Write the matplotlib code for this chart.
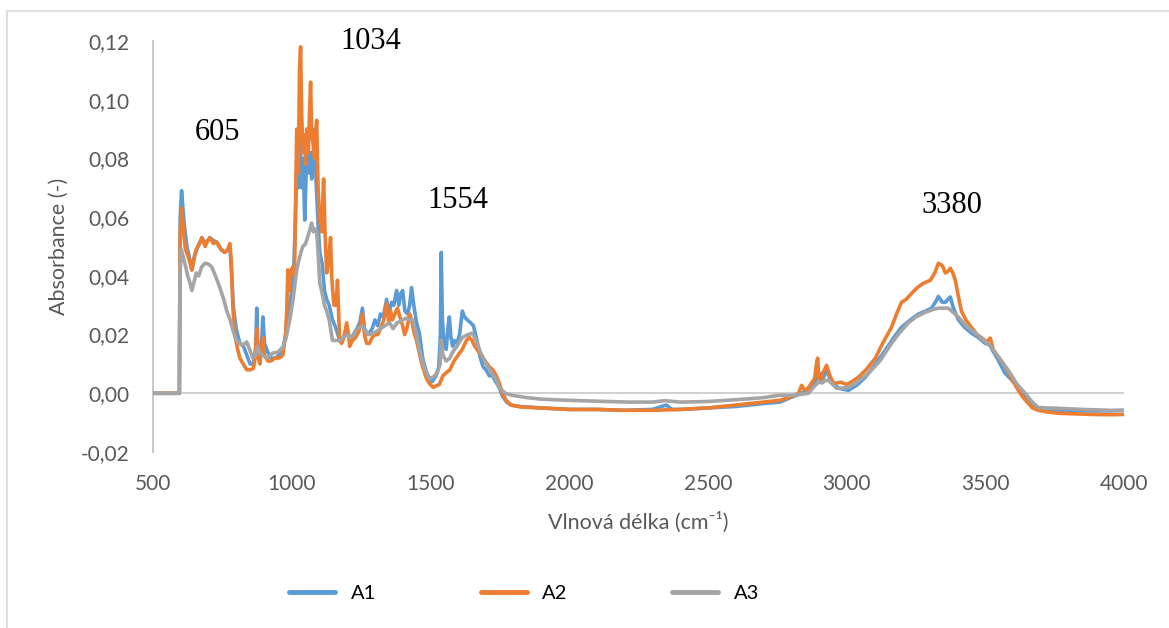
import matplotlib
matplotlib.use("Agg")
import matplotlib.pyplot as plt
from matplotlib.patches import Rectangle
from matplotlib.ticker import FuncFormatter

# --- spectra (wavenumber cm-1, absorbance) ---
a1_wn = [500, 595, 598, 603, 612, 622, 632, 640, 650, 662, 676, 690, 705, 718, 730, 745, 759, 770, 777,
         784, 790, 800, 813, 826, 838, 850, 862, 870, 874, 878, 885, 891, 896, 902, 914, 925, 940, 955,
         968, 978, 986, 996, 1006, 1012, 1018, 1024, 1029, 1036, 1041, 1047, 1052, 1058, 1064, 1068,
         1072, 1077, 1083, 1088, 1094, 1101, 1110, 1118, 1126, 1135, 1147, 1160, 1173, 1186, 1198,
         1210, 1222, 1235, 1245, 1255, 1262, 1275, 1290, 1300, 1310, 1320, 1330, 1342, 1350, 1360,
         1368, 1378, 1386, 1393, 1400, 1408, 1418, 1425, 1432, 1440, 1450, 1460, 1472, 1486, 1498,
         1507, 1520, 1530, 1536, 1539, 1543, 1550, 1557, 1563, 1568, 1574, 1580, 1586, 1595, 1605,
         1615, 1623, 1633, 1645, 1655, 1668, 1680, 1690, 1700, 1712, 1723, 1735, 1748, 1760, 1775,
         1790, 1820, 1900, 2000, 2100, 2200, 2300, 2350, 2370, 2400, 2500, 2600, 2700, 2760, 2800,
         2838, 2863, 2885, 2900, 2906, 2915, 2928, 2945, 2971, 3007, 3040, 3068, 3100, 3140, 3170,
         3198, 3230, 3259, 3285, 3306, 3320, 3331, 3345, 3356, 3365, 3374, 3385, 3403, 3425, 3450,
         3475, 3500, 3515, 3530, 3547, 3570, 3595, 3619, 3640, 3660, 3680, 3720, 3762, 3850, 3950, 4000]
a1_abs = [0.0, 0.0, 0.060, 0.069, 0.058, 0.050, 0.046, 0.042, 0.047, 0.050, 0.053, 0.051, 0.053, 0.052,
          0.0515, 0.049, 0.048, 0.049, 0.050, 0.040, 0.029, 0.022, 0.017, 0.016, 0.013, 0.010, 0.010,
          0.015, 0.029, 0.016, 0.012, 0.016, 0.026, 0.017, 0.014, 0.012, 0.012, 0.013, 0.0147, 0.020,
          0.028, 0.032, 0.040, 0.055, 0.076, 0.070, 0.090, 0.070, 0.080, 0.059, 0.075, 0.085, 0.075,
          0.082, 0.073, 0.080, 0.090, 0.072, 0.060, 0.048, 0.044, 0.035, 0.032, 0.030, 0.025, 0.022,
          0.018, 0.019, 0.021, 0.018, 0.020, 0.022, 0.024, 0.029, 0.022, 0.020, 0.022, 0.025, 0.023,
          0.027, 0.026, 0.032, 0.027, 0.031, 0.030, 0.035, 0.030, 0.034, 0.035, 0.028, 0.027, 0.030,
          0.036, 0.030, 0.024, 0.0205, 0.012, 0.007, 0.005, 0.004, 0.006, 0.009, 0.020, 0.048, 0.025,
          0.016, 0.015, 0.022, 0.026, 0.019, 0.016, 0.018, 0.017, 0.020, 0.028, 0.026, 0.025, 0.024,
          0.023, 0.018, 0.012, 0.009, 0.008, 0.006, 0.006, 0.004, 0.002, -0.001, -0.003, -0.004,
          -0.0045, -0.005, -0.0055, -0.0055, -0.0058, -0.0055, -0.004, -0.0055, -0.0055, -0.005,
          -0.0045, -0.0035, -0.003, -0.0014, 0.0, 0.0017, 0.004, 0.006, 0.0068, 0.005, 0.0078, 0.004,
          0.0017, 0.001, 0.003, 0.0055, 0.0095, 0.0147, 0.019, 0.0225, 0.025, 0.027, 0.028, 0.029,
          0.031, 0.033, 0.031, 0.031, 0.032, 0.0328, 0.029, 0.025, 0.0225, 0.0205, 0.019, 0.017,
          0.0165, 0.014, 0.0113, 0.007, 0.0045, 0.002, -0.001, -0.0035, -0.0048, -0.0055, -0.0058,
          -0.006, -0.006, -0.0058]

a2_wn = [500, 595, 598, 603, 610, 617, 625, 632, 640, 648, 656, 668, 676, 688, 697, 705, 718, 730, 745,
         759, 770, 777, 782, 788, 795, 805, 813, 825, 838, 850, 862, 868, 874, 878, 885, 892, 896, 902,
         914, 925, 940, 955, 968, 978, 982, 986, 992, 998, 1004, 1010, 1015, 1018, 1024, 1028, 1032,
         1036, 1040, 1046, 1050, 1054, 1060, 1064, 1068, 1072, 1076, 1082, 1086, 1090, 1095, 1101,
         1108, 1115, 1120, 1126, 1133, 1140, 1144, 1147, 1152, 1160, 1165, 1170, 1173, 1180, 1188,
         1198, 1205, 1209, 1219, 1230, 1242, 1255, 1262, 1270, 1280, 1290, 1300, 1310, 1320, 1332,
         1342, 1350, 1356, 1363, 1372, 1381, 1390, 1400, 1407, 1415, 1425, 1432, 1440, 1450, 1460,
         1472, 1486, 1496, 1510, 1520, 1532, 1545, 1557, 1570, 1585, 1600, 1615, 1630, 1640, 1650,
         1660, 1675, 1690, 1705, 1712, 1725, 1737, 1748, 1760, 1773, 1790, 1831, 1900, 2000, 2100,
         2200, 2300, 2400, 2500, 2600, 2700, 2760, 2800, 2827, 2838, 2846, 2856, 2870, 2885, 2893,
         2896, 2900, 2906, 2915, 2928, 2940, 2953, 2965, 2978, 3000, 3020, 3043, 3070, 3104, 3130,
         3162, 3180, 3198, 3215, 3234, 3255, 3277, 3302, 3318, 3331, 3345, 3356, 3365, 3374, 3383,
         3392, 3403, 3414, 3430, 3450, 3470, 3486, 3505, 3518, 3529, 3550, 3572, 3595, 3619, 3637,
         3655, 3670, 3690, 3720, 3762, 3820, 3881, 3950, 4000]
a2_abs = [0.0, 0.0, 0.055, 0.063, 0.055, 0.049, 0.047, 0.045, 0.042, 0.046, 0.049, 0.051, 0.053, 0.050,
          0.052, 0.053, 0.051, 0.0515, 0.049, 0.048, 0.049, 0.051, 0.045, 0.029, 0.020, 0.015, 0.012,
          0.010, 0.008, 0.008, 0.0085, 0.012, 0.022, 0.013, 0.010, 0.016, 0.019, 0.013, 0.011, 0.011,
          0.012, 0.012, 0.013, 0.020, 0.028, 0.042, 0.035, 0.042, 0.043, 0.040, 0.070, 0.090, 0.075,
          0.110, 0.118, 0.095, 0.082, 0.088, 0.078, 0.090, 0.082, 0.095, 0.106, 0.088, 0.086, 0.080,
          0.088, 0.093, 0.070, 0.059, 0.055, 0.073, 0.055, 0.041, 0.045, 0.053, 0.040, 0.036, 0.030,
          0.030, 0.0385, 0.025, 0.018, 0.017, 0.019, 0.024, 0.020, 0.016, 0.018, 0.019, 0.021, 0.027,
          0.020, 0.017, 0.017, 0.019, 0.020, 0.020, 0.022, 0.025, 0.0307, 0.024, 0.028, 0.025, 0.027,
          0.029, 0.026, 0.023, 0.020, 0.022, 0.027, 0.025, 0.021, 0.018, 0.0137, 0.009, 0.005, 0.0034,
          0.002, 0.0025, 0.003, 0.006, 0.007, 0.008, 0.011, 0.013, 0.015, 0.018, 0.019, 0.018, 0.016,
          0.014, 0.012, 0.010, 0.009, 0.008, 0.006, 0.0035, 0.0, -0.0024, -0.004, -0.0047, -0.005,
          -0.0055, -0.0055, -0.0058, -0.0058, -0.0055, -0.005, -0.004, -0.003, -0.0024, -0.0012, 0.0,
          0.0027, 0.0015, 0.001, 0.003, 0.005, 0.011, 0.012, 0.005, 0.0044, 0.007, 0.0095, 0.006,
          0.0034, 0.0035, 0.0038, 0.003, 0.004, 0.0055, 0.008, 0.012, 0.017, 0.0225, 0.027, 0.031,
          0.032, 0.034, 0.036, 0.0375, 0.0385, 0.041, 0.0443, 0.0435, 0.041, 0.0415, 0.0426, 0.041,
          0.0385, 0.033, 0.028, 0.025, 0.0225, 0.020, 0.019, 0.0175, 0.0188, 0.0147, 0.012, 0.009,
          0.005, 0.001, -0.0015, -0.0034, -0.005, -0.0058, -0.0063, -0.0068, -0.007, -0.0072,
          -0.0073, -0.0072]

a3_wn = [500, 595, 597, 602, 610, 618, 625, 632, 640, 648, 656, 665, 675, 687, 700, 712, 725, 741, 755,
         766, 778, 788, 800, 813, 825, 838, 848, 860, 870, 876, 885, 895, 910, 932, 950, 968, 980, 993,
         1005, 1018, 1025, 1033, 1040, 1050, 1060, 1066, 1072, 1078, 1084, 1090, 1095, 1101, 1110,
         1118, 1126, 1135, 1147, 1160, 1173, 1185, 1198, 1210, 1225, 1235, 1245, 1255, 1265, 1280,
         1292, 1305, 1320, 1335, 1353, 1365, 1380, 1400, 1414, 1425, 1436, 1450, 1460, 1471, 1484,
         1496, 1510, 1525, 1535, 1539, 1545, 1557, 1570, 1580, 1595, 1615, 1635, 1651, 1665, 1680,
         1701, 1720, 1735, 1748, 1770, 1795, 1850, 1900, 2000, 2100, 2215, 2300, 2345, 2400, 2500,
         2600, 2700, 2755, 2802, 2840, 2863, 2880, 2899, 2912, 2924, 2935, 2950, 2964, 2990, 3007,
         3040, 3079, 3120, 3162, 3190, 3223, 3250, 3284, 3310, 3331, 3350, 3367, 3385, 3403, 3430,
         3464, 3495, 3522, 3550, 3583, 3615, 3644, 3665, 3690, 3720, 3762, 3850, 3950, 4000]
a3_abs = [0.0, 0.0, 0.040, 0.049, 0.046, 0.043, 0.040, 0.038, 0.035, 0.038, 0.041, 0.040, 0.043,
          0.0443, 0.044, 0.043, 0.040, 0.036, 0.032, 0.028, 0.025, 0.0215, 0.018, 0.017, 0.0165,
          0.0175, 0.015, 0.012, 0.013, 0.016, 0.0137, 0.013, 0.012, 0.0137, 0.014, 0.0157, 0.019,
          0.025, 0.032, 0.042, 0.045, 0.048, 0.050, 0.051, 0.054, 0.056, 0.058, 0.055, 0.056, 0.055,
          0.048, 0.0375, 0.034, 0.030, 0.028, 0.025, 0.018, 0.018, 0.018, 0.019, 0.020, 0.019, 0.020,
          0.022, 0.0225, 0.023, 0.021, 0.020, 0.0205, 0.021, 0.022, 0.023, 0.024, 0.022, 0.024,
          0.025, 0.0256, 0.025, 0.025, 0.020, 0.015, 0.011, 0.007, 0.005, 0.0055, 0.007, 0.010,
          0.018, 0.013, 0.011, 0.012, 0.014, 0.016, 0.019, 0.020, 0.0205, 0.018, 0.014, 0.010,
          0.007, 0.005, 0.002, 0.0, -0.0007, -0.0015, -0.002, -0.0024, -0.0027, -0.003, -0.003,
          -0.0025, -0.003, -0.0028, -0.0022, -0.0015, -0.0007, -0.0007, -0.0003, 0.0, 0.002,
          0.0038, 0.0035, 0.0044, 0.0044, 0.003, 0.0017, 0.0018, 0.002, 0.004, 0.0068, 0.011,
          0.017, 0.0205, 0.024, 0.026, 0.0276, 0.0285, 0.029, 0.029, 0.029, 0.0275, 0.026, 0.023,
          0.0205, 0.018, 0.0157, 0.012, 0.0078, 0.003, 0.0, -0.0025, -0.0048, -0.005, -0.0051,
          -0.0055, -0.0058, -0.0058]

series_names = ["A1", "A2", "A3"]
series_colors = ["#5B9BD5", "#ED7D31", "#A5A5A5"]

peak_labels = ["605", "1034", "1554", "3380"]
peak_label_pos = [(734, 0.0887), (1286, 0.1197), (1600, 0.0658), (3381, 0.0638)]

x_ticks = [500, 1000, 1500, 2000, 2500, 3000, 3500, 4000]
y_ticks = [-0.02, 0.0, 0.02, 0.04, 0.06, 0.08, 0.10, 0.12]

TICK_GRAY = "#595959"
SANS = ["Lato", "DejaVu Sans"]

plt.rcParams["font.family"] = SANS

fig = plt.figure(figsize=(11.69, 6.28), dpi=100)
ax = fig.add_axes([153 / 1169, 1 - 452 / 628, (1124 - 153) / 1169, (452 - 41) / 628])

for wn, ab, name, col in zip([a1_wn, a2_wn, a3_wn], [a1_abs, a2_abs, a3_abs],
                             series_names, series_colors):
    ax.plot(wn, ab, color=col, lw=2.6, label=name, solid_joinstyle="round", zorder=3)

# horizontal axis sits at zero
ax.axhline(0, color="#D0D0D0", lw=1.4, zorder=1)

ax.set_xlim(500, 4000)
ax.set_ylim(-0.02, 0.12)
ax.set_xticks(x_ticks)
ax.set_yticks(y_ticks)
ax.yaxis.set_major_formatter(FuncFormatter(lambda v, p: f"{v:.2f}".replace(".", ",")))

for s in ["top", "right", "bottom"]:
    ax.spines[s].set_visible(False)
ax.spines["left"].set_color("#C8C8C8")
ax.spines["left"].set_linewidth(1.4)
ax.tick_params(length=0, labelsize=15, labelcolor=TICK_GRAY)
ax.tick_params(axis="x", pad=16)
ax.tick_params(axis="y", pad=17)

ax.set_ylabel("Absorbance (-)", fontsize=15.5, color=TICK_GRAY)
ax.yaxis.set_label_coords(-0.087, 0.5)
ax.set_xlabel("Vlnová délka (cm⁻¹)", fontsize=15.5, color=TICK_GRAY)
ax.xaxis.set_label_coords(0.5, -0.145)

for txt, (xv, yv) in zip(peak_labels, peak_label_pos):
    ax.text(xv, yv, txt, ha="center", va="center", fontsize=22,
            family="Liberation Serif", color="black", clip_on=False, zorder=4)

leg = fig.legend(loc="center", bbox_to_anchor=(524 / 1169, 1 - 593 / 628), ncol=3,
                 frameon=False, fontsize=14.5, handlelength=2.3, handletextpad=0.75,
                 columnspacing=5.2)
for h in leg.get_lines():
    h.set_linewidth(3.5)
    h.set_solid_capstyle("round")

# outer chart frame
fig.patches.append(Rectangle((7 / 1169, -0.1), 1.2, 1.1 - 11 / 628, transform=fig.transFigure,
                             fill=False, edgecolor="#D9D9D9", lw=1.2))

fig.savefig("out.png", dpi=100)
